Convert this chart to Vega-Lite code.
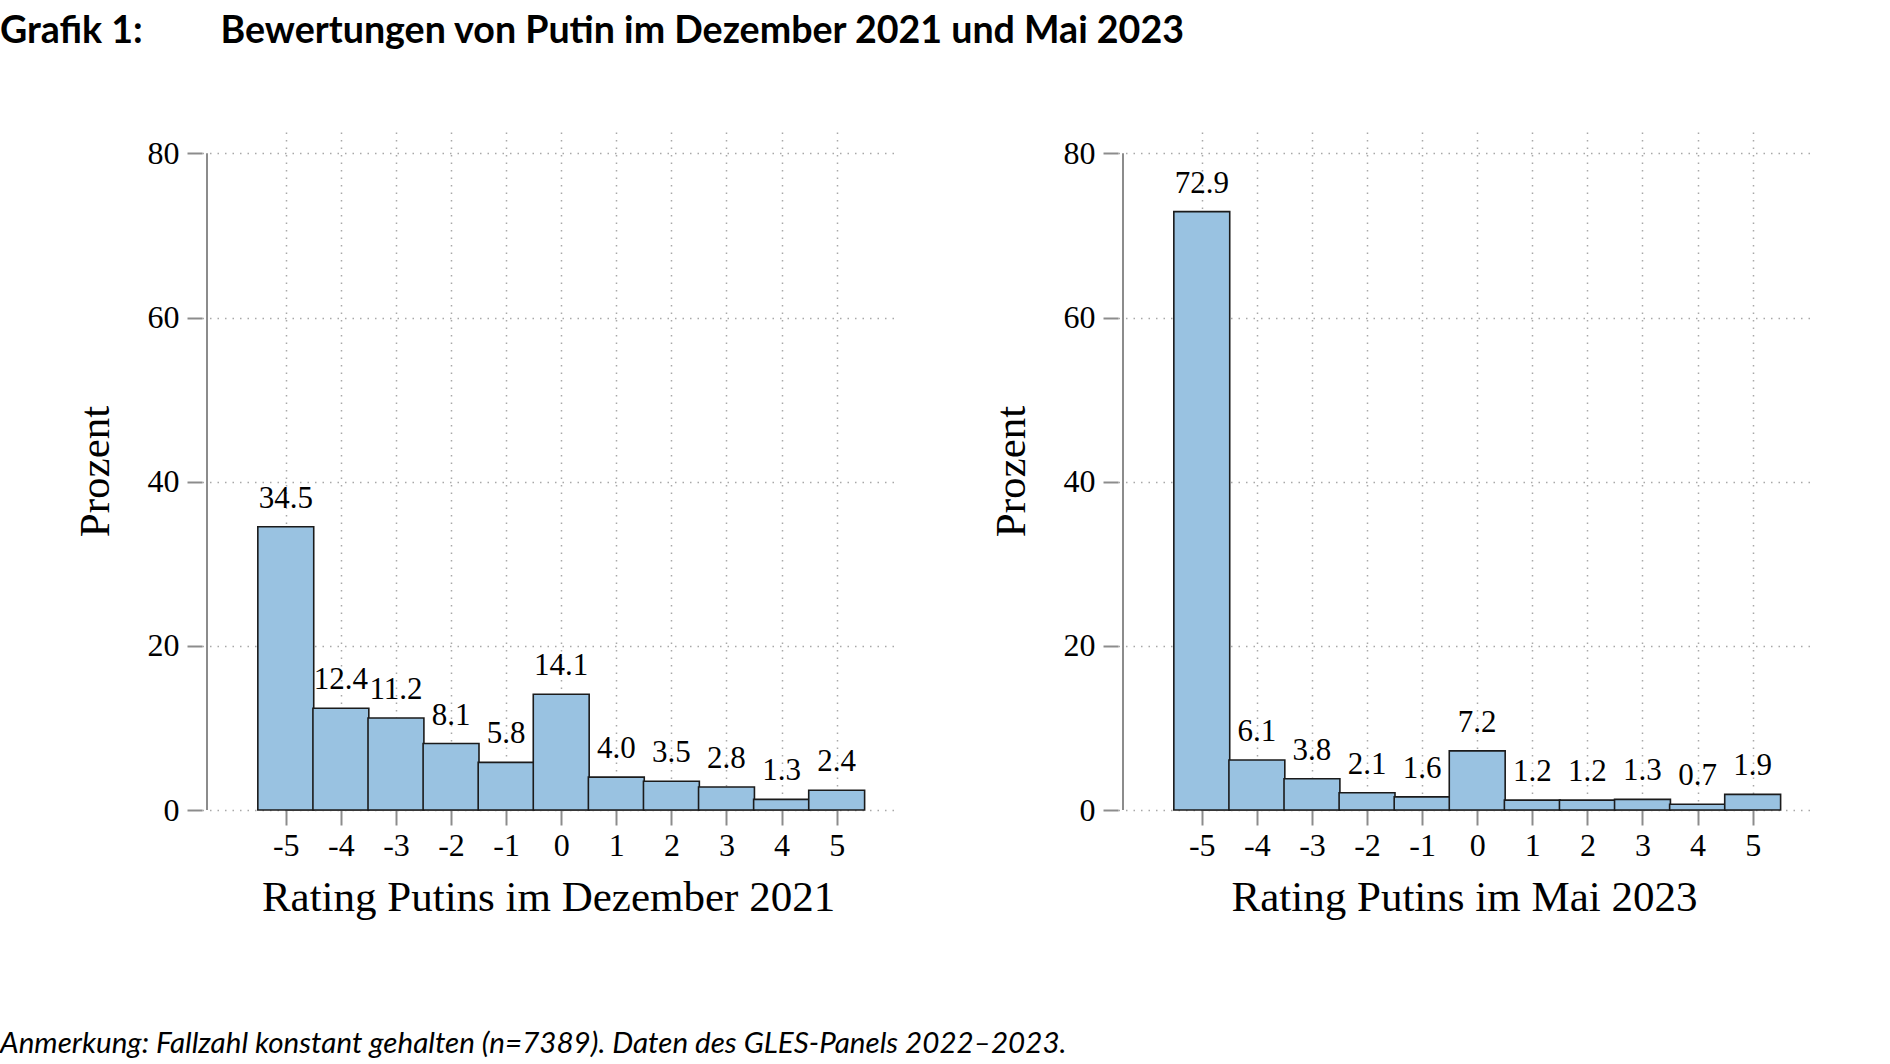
{
  "$schema": "https://vega.github.io/schema/vega-lite/v6.json",
  "padding": {"top": 13, "left": 0, "right": 0, "bottom": 0},
  "background": "white",
  "datasets": {
    "dez2021": [
      {"rating": -5, "pct": 34.5}, {"rating": -4, "pct": 12.4}, {"rating": -3, "pct": 11.2},
      {"rating": -2, "pct": 8.1}, {"rating": -1, "pct": 5.8}, {"rating": 0, "pct": 14.1},
      {"rating": 1, "pct": 4.0}, {"rating": 2, "pct": 3.5}, {"rating": 3, "pct": 2.8},
      {"rating": 4, "pct": 1.3}, {"rating": 5, "pct": 2.4}
    ],
    "mai2023": [
      {"rating": -5, "pct": 72.9}, {"rating": -4, "pct": 6.1}, {"rating": -3, "pct": 3.8},
      {"rating": -2, "pct": 2.1}, {"rating": -1, "pct": 1.6}, {"rating": 0, "pct": 7.2},
      {"rating": 1, "pct": 1.2}, {"rating": 2, "pct": 1.2}, {"rating": 3, "pct": 1.3},
      {"rating": 4, "pct": 0.7}, {"rating": 5, "pct": 1.9}
    ]
  },
  "title": {
    "text": "Anmerkung: Fallzahl konstant gehalten (n=7389). Daten des GLES-Panels 2022–2023.",
    "orient": "bottom", "anchor": "start", "frame": "bounds",
    "font": "Lato", "fontStyle": "italic", "fontWeight": "normal", "fontSize": 29.6, "color": "#000000",
    "offset": 111
  },
  "vconcat": [
    {
      "title": {
        "text": "Grafik 1:\u00a0\u00a0\u00a0\u00a0\u00a0\u00a0\u00a0\u00a0\u2009Bewertungen von Putin im Dezember 2021 und Mai 2023",
        "anchor": "start", "frame": "bounds", "dx": -74,
        "font": "Lato", "fontWeight": "bold", "fontSize": 37.6, "color": "#000000",
        "offset": 81
      },
      "hconcat": [
        {
          "width": 692, "height": 678,
          "data": {"name": "dez2021"},
          "layer": [
            {
              "data": {"values": [{}]},
              "mark": {"type": "rule", "color": "#8c8c8c", "strokeWidth": 2},
              "encoding": {"x": {"datum": -5, "type": "quantitative"}, "x2": {"datum": 5}, "y": {"datum": 0, "type": "quantitative"}}
            },
            {
              "data": {"values": [{}]},
              "mark": {"type": "rule", "color": "#8c8c8c", "strokeWidth": 2},
              "encoding": {"x": {"datum": -6.43, "type": "quantitative"}, "y": {"datum": 0, "type": "quantitative"}, "y2": {"datum": 80}}
            },
            {
              "mark": {"type": "bar", "width": 55.9, "fill": "#99c2e1", "stroke": "#1b1b1b", "strokeWidth": 1.6},
              "encoding": {
                "x": {"field": "rating", "type": "quantitative", "title": "Rating Putins im Dezember 2021",
                      "scale": {"domain": [-6.43, 5.95], "nice": false, "zero": false},
                      "axis": {"values": [-5, -4, -3, -2, -1, 0, 1, 2, 3, 4, 5], "labelExpr": "'' + datum.value"}},
                "y": {"field": "pct", "type": "quantitative", "title": "Prozent",
                      "scale": {"domain": [0, 82.6], "nice": false},
                      "axis": {"values": [0, 20, 40, 60, 80]}}
              }
            },
            {
              "mark": {"type": "text", "baseline": "alphabetic", "dy": -19, "font": "Liberation Serif", "fontSize": 31, "color": "#000000"},
              "encoding": {
                "x": {"field": "rating", "type": "quantitative"},
                "y": {"field": "pct", "type": "quantitative"},
                "text": {"field": "pct", "type": "quantitative", "format": ".1f"}
              }
            }
          ]
        },
        {
          "width": 692, "height": 678,
          "data": {"name": "mai2023"},
          "layer": [
            {
              "data": {"values": [{}]},
              "mark": {"type": "rule", "color": "#8c8c8c", "strokeWidth": 2},
              "encoding": {"x": {"datum": -5, "type": "quantitative"}, "x2": {"datum": 5}, "y": {"datum": 0, "type": "quantitative"}}
            },
            {
              "data": {"values": [{}]},
              "mark": {"type": "rule", "color": "#8c8c8c", "strokeWidth": 2},
              "encoding": {"x": {"datum": -6.43, "type": "quantitative"}, "y": {"datum": 0, "type": "quantitative"}, "y2": {"datum": 80}}
            },
            {
              "mark": {"type": "bar", "width": 55.9, "fill": "#99c2e1", "stroke": "#1b1b1b", "strokeWidth": 1.6},
              "encoding": {
                "x": {"field": "rating", "type": "quantitative", "title": "Rating Putins im Mai 2023",
                      "scale": {"domain": [-6.43, 5.95], "nice": false, "zero": false},
                      "axis": {"values": [-5, -4, -3, -2, -1, 0, 1, 2, 3, 4, 5], "labelExpr": "'' + datum.value"}},
                "y": {"field": "pct", "type": "quantitative", "title": "Prozent",
                      "scale": {"domain": [0, 82.6], "nice": false},
                      "axis": {"values": [0, 20, 40, 60, 80]}}
              }
            },
            {
              "mark": {"type": "text", "baseline": "alphabetic", "dy": -19, "font": "Liberation Serif", "fontSize": 31, "color": "#000000"},
              "encoding": {
                "x": {"field": "rating", "type": "quantitative"},
                "y": {"field": "pct", "type": "quantitative"},
                "text": {"field": "pct", "type": "quantitative", "format": ".1f"}
              }
            }
          ]
        }
      ],
      "spacing": 224,
      "bounds": "flush"
    }
  ],
  "config": {
    "view": {"stroke": null},
    "axisX": {
      "domain": false,
      "grid": true, "gridDash": [1.5, 6], "gridColor": "#a8a8a8", "gridWidth": 1.5,
      "tickColor": "#8c8c8c", "tickWidth": 2, "tickSize": 15,
      "labelFont": "Liberation Serif", "labelFontSize": 32, "labelColor": "#000000", "labelPadding": 5,
      "titleFont": "Liberation Serif", "titleFontSize": 43, "titleFontWeight": "normal", "titleColor": "#000000", "titlePadding": 15
    },
    "axisY": {
      "domain": false,
      "grid": true, "gridDash": [1.5, 6], "gridColor": "#a8a8a8", "gridWidth": 1.5,
      "tickColor": "#8c8c8c", "tickWidth": 2, "tickSize": 15,
      "labelFont": "Liberation Serif", "labelFontSize": 32, "labelColor": "#000000", "labelPadding": 8,
      "titleFont": "Liberation Serif", "titleFontSize": 43, "titleFontWeight": "normal", "titleColor": "#000000", "titlePadding": 30
    }
  }
}
